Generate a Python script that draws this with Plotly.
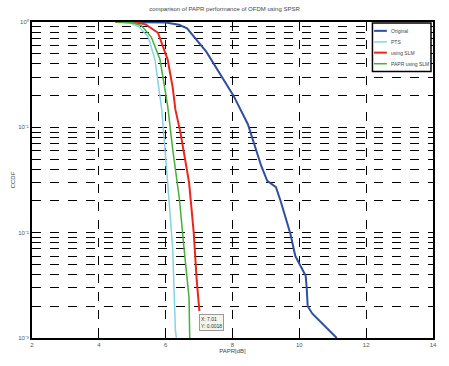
import math
import plotly.graph_objects as go

# ---- data ----
orig_x = [4.5, 6.0, 6.4, 6.64, 7.22, 7.59, 8.03, 8.46, 8.66, 8.86, 9.04, 9.30, 9.44, 9.59, 9.73, 9.88, 10.02, 10.19, 10.22, 10.25, 10.39, 11.12]
orig_y = [1.0, 0.99, 0.94, 0.87, 0.52, 0.34, 0.20, 0.107, 0.066, 0.043, 0.031, 0.027, 0.020, 0.0136, 0.0098, 0.0060, 0.0049, 0.0039, 0.0030, 0.0020, 0.0017, 0.001]

pts_x = [4.5, 4.9, 5.2, 5.48, 5.68, 5.83, 5.88, 6.06, 6.21, 6.29, 6.32]
pts_y = [1.0, 0.99, 0.9, 0.72, 0.44, 0.21, 0.15, 0.030, 0.0071, 0.0012, 0.001]

slm_x = [4.5, 5.1, 5.40, 5.77, 6.06, 6.21, 6.29, 6.44, 6.70, 6.84, 6.93, 7.01]
slm_y = [1.0, 0.99, 0.95, 0.79, 0.44, 0.24, 0.148, 0.090, 0.030, 0.010, 0.0035, 0.0018]

papr_slm_x = [4.5, 5.0, 5.28, 5.57, 5.83, 5.97, 6.06, 6.21, 6.41, 6.55, 6.70, 6.72]
papr_slm_y = [1.0, 0.99, 0.92, 0.72, 0.44, 0.24, 0.16, 0.062, 0.021, 0.0071, 0.0024, 0.001]

series_names = ["Original", "PTS", "using SLM", "PAPR using SLM"]
series_colors = ["#2f4fa0", "#86d3e3", "#e8281e", "#45b03a"]

x_ticks = [2, 4, 6, 8, 10, 12, 14]
y_decades = [1e-3, 1e-2, 1e-1, 1e0]
y_decade_labels = ["10⁻³", "10⁻²", "10⁻¹", "10⁰"]

title_text = "comparison of PAPR performance of OFDM using SPSR"
x_title = "PAPR[dB]"
y_title = "CCDF"
tip_x, tip_y = 7.01, 0.0018
tip_text = "X: 7.01<br>Y: 0.0018"

# ---- figure ----
fig = go.Figure()
data = [(orig_x, orig_y), (pts_x, pts_y), (slm_x, slm_y), (papr_slm_x, papr_slm_y)]
widths = [2, 1.5, 2, 1.5]
for (xs, ys), nm, col, w in zip(data, series_names, series_colors, widths):
    fig.add_trace(go.Scatter(x=xs, y=ys, mode="lines", name=nm, showlegend=False,
                             line=dict(color=col, width=w)))

# minor log values for the dashed grid
y_minor = [d * m for d in y_decades[:-1] for m in range(2, 10)]

# data tip (log axis -> annotation y in log10 units)
fig.add_annotation(x=tip_x, y=math.log10(tip_y), xref="x", yref="y", text=tip_text,
                   showarrow=False, xanchor="left", yanchor="top", xshift=0, yshift=-3,
                   font=dict(size=5, color="#333"), bgcolor="#f4f4ea",
                   bordercolor="#999", borderwidth=1, borderpad=1, align="left")

# compact MATLAB-style legend box (paper coordinates)
lx0, lx1, ly0, ly1 = 0.849, 0.995, 0.843, 0.997
fig.add_shape(type="rect", xref="paper", yref="paper", x0=lx0, x1=lx1, y0=ly0, y1=ly1,
              line=dict(color="black", width=1.5), fillcolor="white", layer="above")
entry_y = [0.972, 0.937, 0.903, 0.868]
for nm, col, ey, w in zip(series_names, series_colors, entry_y, widths):
    fig.add_shape(type="line", xref="paper", yref="paper", x0=0.853, x1=0.885, y0=ey, y1=ey,
                  line=dict(color=col, width=w), layer="above")
    fig.add_annotation(x=0.89, y=ey, xref="paper", yref="paper", text=nm, showarrow=False,
                       xanchor="left", yanchor="middle", font=dict(size=5, color="#444"))

fig.update_layout(
    width=449, height=366,
    margin=dict(l=19, r=14, t=22, b=26),
    paper_bgcolor="white", plot_bgcolor="white",
    font=dict(family="Liberation Sans, Arial, sans-serif", size=6, color="#555"),
    title=dict(text=title_text, x=0.5, xanchor="center", y=0.975, yanchor="middle",
               font=dict(size=6, color="#444")),
    showlegend=False,
    xaxis=dict(range=[2, 14], tickvals=x_ticks, ticktext=[str(v) for v in x_ticks],
               showgrid=True, gridcolor="black", griddash="dash", gridwidth=1,
               showline=True, linecolor="black", linewidth=2, mirror=True,
               ticks="inside", ticklen=3, tickcolor="black",
               zeroline=False,
               title=dict(text=x_title, font=dict(size=6, color="#444"), standoff=2)),
    yaxis=dict(type="log", range=[-3, 0], tickvals=y_decades, ticktext=y_decade_labels,
               showgrid=True, gridcolor="black", griddash="dash", gridwidth=1,
               showline=True, linecolor="black", linewidth=2, mirror=True,
               ticks="inside", ticklen=3, tickcolor="black",
               zeroline=False,
               minor=dict(tickmode="array", tickvals=y_minor, showgrid=True,
                          gridcolor="black", griddash="dash", gridwidth=1,
                          ticks="inside", ticklen=2, tickcolor="black"),
               title=dict(text=y_title, font=dict(size=6, color="#444"), standoff=2)),
)

fig.write_html("out.html")
